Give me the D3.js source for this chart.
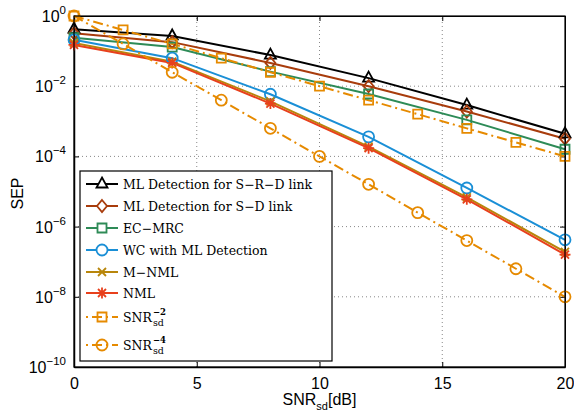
<!DOCTYPE html>
<html>
<head>
<meta charset="utf-8">
<script src="https://cdn.jsdelivr.net/npm/d3@7"></script>
<style>
  body { margin: 0; background: #fff; }
  svg { display: block; }
</style>
</head>
<body>
<div id="chart"></div>
<script>
// values
const snrMain = [0, 4, 8, 12, 16, 20];
const snrRef = [0, 2, 4, 6, 8, 10, 12, 14, 16, 18, 20];

const sepSRD = [0.42, 0.27, 0.077, 0.017, 0.0029, 0.00044];
const sepSD = [0.32, 0.18, 0.046, 0.0100, 0.0019, 0.00032];
const sepECMRC = [0.24, 0.13, 0.026, 0.0060, 0.0011, 0.00016];
const sepWC = [0.21, 0.063, 0.0059, 0.00036, 0.0000126, 0.00000042];
const sepMNML = [0.17, 0.05, 0.0037, 0.00019, 0.0000068, 0.00000019];
const sepNML = [0.15, 0.046, 0.0032, 0.000172, 0.0000060, 0.00000016];
const sepSNR2 = [1, 0.4, 0.16, 0.063, 0.025, 0.01, 0.004, 0.0016, 0.00063, 0.00025, 0.0001];
const sepSNR4 = [1, 0.16, 0.025, 0.004, 0.00063, 0.0001, 0.000016, 0.0000025, 0.0000004, 0.000000063, 0.00000001];

const xTicks = [0, 5, 10, 15, 20];
const yTickExp = [0, -2, -4, -6, -8, -10];

const series = [
  { name: "ML Detection for S\u2212R\u2212D link", x: snrMain, y: sepSRD, color: "#000000", marker: "triangle", dash: null },
  { name: "ML Detection for S\u2212D link", x: snrMain, y: sepSD, color: "#a83c0c", marker: "diamond", dash: null },
  { name: "EC\u2212MRC", x: snrMain, y: sepECMRC, color: "#2e8b57", marker: "square", dash: null },
  { name: "WC with ML Detection", x: snrMain, y: sepWC, color: "#1a8fd6", marker: "circle", dash: null },
  { name: "M\u2212NML", x: snrMain, y: sepMNML, color: "#b8860b", marker: "x", dash: null },
  { name: "NML", x: snrMain, y: sepNML, color: "#e8401c", marker: "star", dash: null },
  { name: "SNR", sup: "\u22122", sub: "sd", x: snrRef, y: sepSNR2, color: "#e68a00", marker: "square", dash: "10,4,2,4" },
  { name: "SNR", sup: "\u22124", sub: "sd", x: snrRef, y: sepSNR4, color: "#e68a00", marker: "circle", dash: "10,4,2,4" }
];

const width = 574, height = 413;
const margin = { top: 16, right: 9, bottom: 46, left: 74 };

const svg = d3.select("#chart").append("svg")
  .attr("width", width)
  .attr("height", height)
  .attr("font-family", "'Liberation Sans', Arial, sans-serif");

const xScale = d3.scaleLinear()
  .domain([0, 20])
  .range([margin.left, width - margin.right]);

const yScale = d3.scaleLog()
  .domain([1e-10, 1])
  .range([height - margin.bottom, margin.top]);

const x0 = xScale.range()[0], x1 = xScale.range()[1];
const y0 = yScale.range()[0], y1 = yScale.range()[1];

// dotted grid
const grid = svg.append("g").attr("stroke", "#888").attr("stroke-width", 1).attr("stroke-dasharray", "1,3");
grid.selectAll("line.gx")
  .data(xTicks.slice(1, -1))
  .join("line")
  .attr("x1", d => xScale(d)).attr("x2", d => xScale(d))
  .attr("y1", y0).attr("y2", y1);
grid.selectAll("line.gy")
  .data(yTickExp.slice(1, -1))
  .join("line")
  .attr("x1", x0).attr("x2", x1)
  .attr("y1", d => yScale(Math.pow(10, d))).attr("y2", d => yScale(Math.pow(10, d)));

// axes, ticks inward on all four sides
const xAxis = g => g
  .attr("transform", `translate(0,${y0})`)
  .call(d3.axisBottom(xScale).tickValues(xTicks).tickSizeInner(-5).tickSizeOuter(0).tickPadding(11))
  .call(g => g.select(".domain").attr("stroke-width", 1.5))
  .selectAll("text")
  .attr("font-size", 16)
  .attr("font-family", "'Liberation Sans', Arial, sans-serif")
  .attr("fill", "#000");

const xAxisTop = g => g
  .attr("transform", `translate(0,${y1})`)
  .call(d3.axisTop(xScale).tickValues(xTicks).tickSizeInner(-5).tickSizeOuter(0).tickFormat(""));

const yTicks = yTickExp.map(e => Math.pow(10, e));
const yAxis = g => g
  .attr("transform", `translate(${x0},0)`)
  .call(d3.axisLeft(yScale).tickValues(yTicks).tickSizeInner(-5).tickSizeOuter(0).tickFormat(""))
  .call(g => g.select(".domain").attr("stroke-width", 1.5));

const yAxisRight = g => g
  .attr("transform", `translate(${x1},0)`)
  .call(d3.axisRight(yScale).tickValues(yTicks).tickSizeInner(-5).tickSizeOuter(0).tickFormat(""));

svg.append("g").call(xAxis);
svg.append("g").call(xAxisTop);
svg.append("g").call(yAxis);
svg.append("g").call(yAxisRight);

// y tick labels as 10^exp
const yLab = svg.append("g").attr("fill", "#000");
yTickExp.forEach(e => {
  const t = yLab.append("text")
    .attr("x", x0 - 8)
    .attr("y", yScale(Math.pow(10, e)) + 6)
    .attr("text-anchor", "end");
  t.append("tspan").attr("font-size", 16).text("10");
  t.append("tspan").attr("font-size", 11.5).attr("dy", -8).text(e === 0 ? "0" : "\u2212" + (-e));
});

// axis titles
const xTitle = svg.append("text")
  .attr("x", (x0 + x1) / 2)
  .attr("y", height - 8)
  .attr("text-anchor", "middle")
  .attr("font-size", 16);
xTitle.append("tspan").text("SNR");
xTitle.append("tspan").attr("font-size", 11).attr("dy", 5).text("sd");
xTitle.append("tspan").attr("dy", -5).text("[dB]");

svg.append("text")
  .attr("transform", `translate(23,${(y0 + y1) / 2 + 2}) rotate(-90)`)
  .attr("text-anchor", "middle")
  .attr("font-size", 16)
  .text("SEP");

// marker paths
function markerPath(type) {
  switch (type) {
    case "triangle": return "M0,-6.5L5.5,3.5L-5.5,3.5Z";
    case "diamond": return "M0,-6L5,0L0,6L-5,0Z";
    case "square": return "M-4.5,-4.5H4.5V4.5H-4.5Z";
    case "circle": return "M5.5,0A5.5,5.5 0 1,1 -5.5,0A5.5,5.5 0 1,1 5.5,0Z";
    case "x": return "M-4,-4L4,4M-4,4L4,-4";
    case "star": return "M-5.5,0H5.5M0,-5.5V5.5M-4,-4L4,4M-4,4L4,-4";
  }
}

const line = d3.line()
  .x(d => xScale(d[0]))
  .y(d => yScale(d[1]));

const plot = svg.append("g");
series.forEach(s => {
  const pts = s.x.map((v, i) => [v, s.y[i]]);
  plot.append("path")
    .datum(pts)
    .attr("d", line)
    .attr("fill", "none")
    .attr("stroke", s.color)
    .attr("stroke-width", 2)
    .attr("stroke-dasharray", s.dash);
});
series.forEach(s => {
  const pts = s.x.map((v, i) => [v, s.y[i]]);
  plot.append("g")
    .selectAll("path")
    .data(pts)
    .join("path")
    .attr("transform", d => `translate(${xScale(d[0])},${yScale(d[1])})`)
    .attr("d", markerPath(s.marker))
    .attr("fill", "none")
    .attr("stroke", s.color)
    .attr("stroke-width", 1.8);
});

// frame
svg.append("rect")
  .attr("x", x0).attr("y", y1)
  .attr("width", x1 - x0).attr("height", y0 - y1)
  .attr("fill", "none").attr("stroke", "#000").attr("stroke-width", 1.2);

// legend
const legX = 80, legY = 171, legW = 252, legH = 190;
const legend = svg.append("g");
legend.append("rect")
  .attr("x", legX).attr("y", legY)
  .attr("width", legW).attr("height", legH)
  .attr("fill", "#fff").attr("stroke", "#000").attr("stroke-width", 1.2);

const legRows = [184, 206, 228, 250, 272, 293, 317, 345];
const legFont = "'DejaVu Serif', 'Liberation Serif', serif";
series.forEach((s, i) => {
  const yy = legRows[i];
  const g = legend.append("g");
  g.append("line")
    .attr("x1", legX + 6).attr("x2", legX + 38)
    .attr("y1", yy).attr("y2", yy)
    .attr("stroke", s.color).attr("stroke-width", 2)
    .attr("stroke-dasharray", s.dash ? "2,4,10,4" : null);
  g.append("path")
    .attr("transform", `translate(${legX + 22},${yy})`)
    .attr("d", markerPath(s.marker))
    .attr("fill", s.dash ? "none" : "#fff")
    .attr("stroke", s.color).attr("stroke-width", 1.8);
  const t = g.append("text")
    .attr("x", legX + 43)
    .attr("y", yy + 4.5)
    .attr("font-family", legFont)
    .attr("font-size", 12.5)
    .attr("fill", "#000")
    .text(s.name);
  if (s.sup) {
    const w = t.node().getComputedTextLength();
    g.append("text")
      .attr("x", legX + 43 + w + 1).attr("y", yy - 2)
      .attr("font-family", legFont)
      .attr("font-size", 8.5).attr("font-weight", "bold")
      .text(s.sup);
    g.append("text")
      .attr("x", legX + 43 + w + 1).attr("y", yy + 9)
      .attr("font-family", legFont)
      .attr("font-size", 9.5)
      .text(s.sub);
  }
});
</script>
</body>
</html>
